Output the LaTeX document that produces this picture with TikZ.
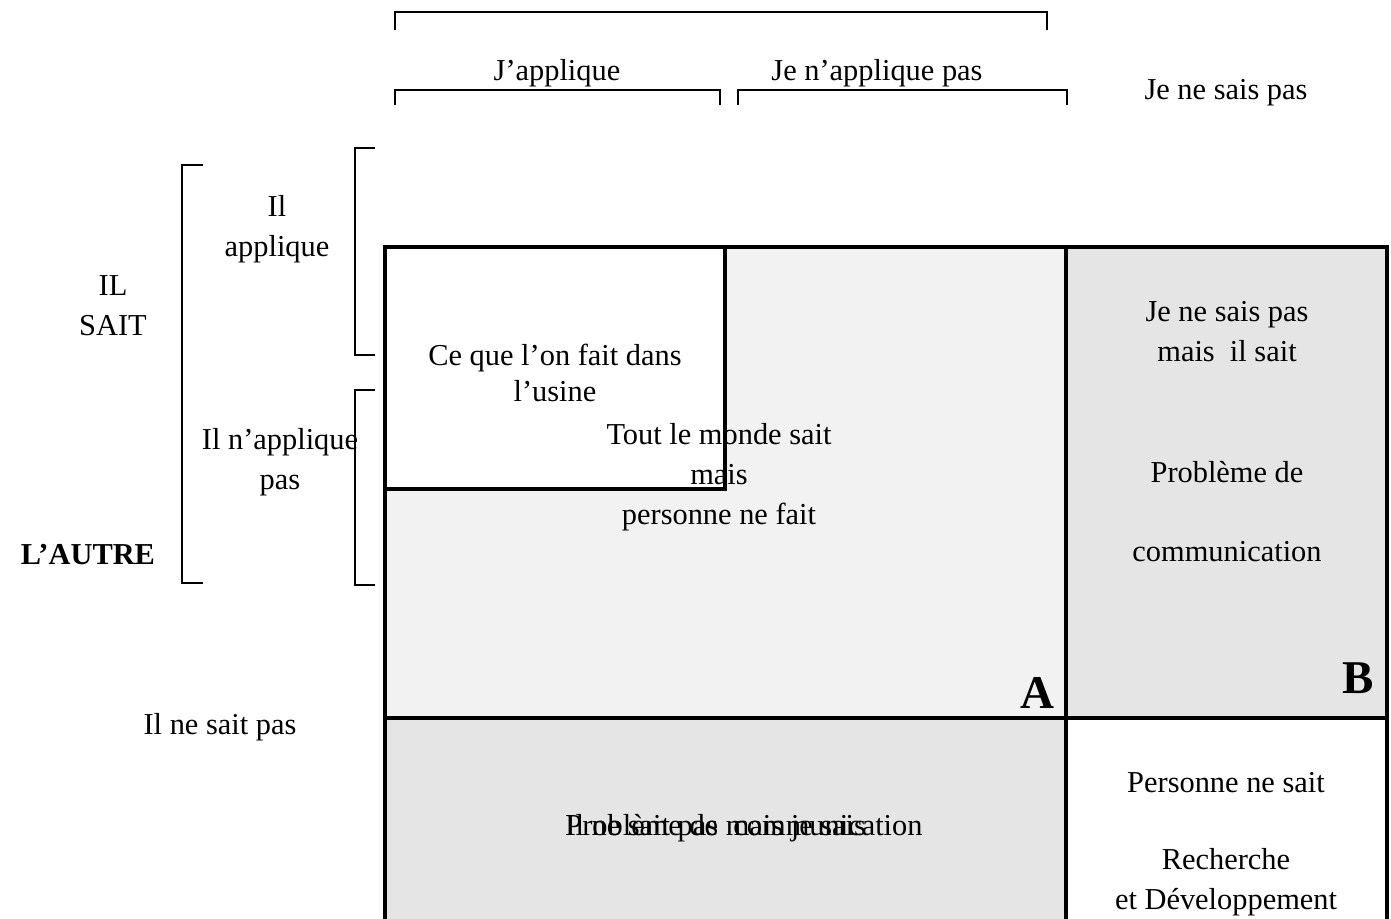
\documentclass[tikz,border=0pt]{standalone}
\usepackage{fontspec}
\setmainfont{Liberation Serif}
\begin{document}
\begin{tikzpicture}[x=0.5pt,y=-0.5pt,
    txt/.style={font=\fontsize{15.2}{19}\selectfont,inner sep=0pt,align=center},
    lettre/.style={font=\fontsize{23.5}{28}\bfseries\selectfont,inner sep=0pt,anchor=base east},
    trait/.style={draw=black,line width=1.6pt},
    crochet/.style={line width=1pt}]
    \useasboundingbox (0,0) rectangle (1391,919);
    \clip (0,0) rectangle (1391,919);
    % fonds des cases
    \fill[gray!10] (385,247) rectangle (1066,718);
    \fill[gray!20] (1066,247) rectangle (1387,718);
    \fill[gray!20] (385,718) rectangle (1066,925);
    \draw[trait,fill=white] (385,247) rectangle (725,489);
    \draw[trait] (385,925) |- (1387,247) -- (1387,925);
    \draw[trait] (1066,247) -- (1066,925);
    \draw[trait] (385,718) -- (1387,718);
    % crochets du haut
    \draw[crochet] (395,30) |- (1047,12) -- (1047,30);
    \foreach \a/\b in {395/720,738/1067} {
        \draw[crochet] (\a,105) |- (\b,90) -- (\b,105);
    }
    % crochets de gauche
    \draw[crochet] (203,165) -| (182,583) -- (203,583);
    \foreach \a/\b in {148/355,390/585} {
        \draw[crochet] (375,\a) -| (355,\b) -- (375,\b);
    }
    % en-tetes
    \node[txt] (japp) at (557,73) {J’applique};
    \node[txt] (jenapp) at (877,73) {Je n’applique pas};
    \node[txt] (jensp) at (1226,93) {Je ne sais pas};
    \node[txt] (ilapp) at (277,229) {Il\\[1pt]applique};
    \node[txt] (ilsait) at (113,306) {IL\\[1pt]SAIT};
    \node[txt] (ilnapp) at (280,462) {Il n’applique\\[1pt]pas};
    \node[txt,font=\fontsize{15.2}{19}\bfseries\selectfont] (autre) at (88,555) {L’AUTRE};
    \node[txt] (ilnsp) at (220,727) {Il ne sait pas};
    % cases
    \node[txt] (usine) at (555,373) {Ce que l’on fait dans\\[-1pt]l’usine};
    \node[txt] (tout) at (719,477) {Tout le monde sait\\[1pt]mais\\[1pt]personne ne fait};
    \node[txt] (jesp) at (1227,332) {Je ne sais pas\\[1pt]mais\ \ il sait};
    \node[txt] (pbm) at (1227,472) {Problème de};
    \node[txt] (comm) at (1227,552) {communication};
    \node[txt] (pers) at (1226,783) {Personne ne sait};
    \node[txt] (rd) at (1226,882) {Recherche\\[1pt]et Développement};
    \node[txt,anchor=base west] (ilnsp2) at (565,835) {Il ne sait pas mais je sais};
    \node[txt,anchor=base west] (pbm2) at (565,835) {Problème de\ \ communication};
    \node[lettre] (A) at (1055,708) {A};
    \node[lettre] (B) at (1374,693) {B};
\end{tikzpicture}
\end{document}
